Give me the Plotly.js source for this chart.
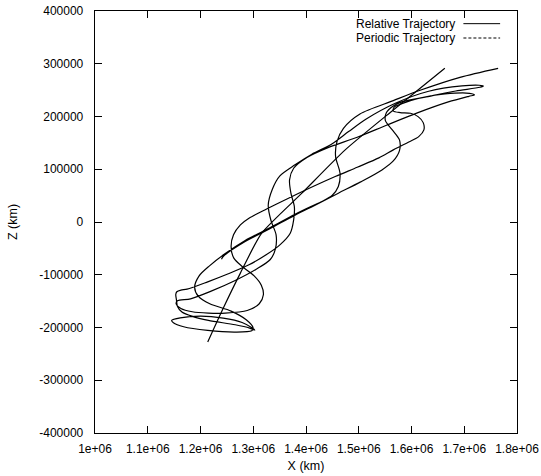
<!DOCTYPE html>
<html>
<head>
<meta charset="utf-8">
<script src="https://cdn.plot.ly/plotly-3.0.1.min.js"></script>
<style>
  html, body { margin: 0; padding: 0; background: #ffffff; }
  #chart { width: 541px; height: 476px; }
</style>
</head>
<body>
<div id="chart"></div>
<script>
// Relative trajectory in the X-Z plane (km), in time order
const relX = [
  1764200, 1691900, 1616300, 1565500, 1502300, 1471000, 1458700, 1456100, 1464500, 1461300,
  1449500, 1430000, 1409200, 1379200, 1332300, 1284700, 1246300, 1217000, 1197400, 1188900,
  1196100, 1217600, 1258000, 1286700, 1299700, 1297100, 1265800, 1213700, 1168100, 1148600,
  1145300, 1161600, 1200700, 1243000, 1278900, 1298400, 1302900, 1293200, 1265800, 1215000,
  1184400, 1164800, 1156400, 1154400, 1153100, 1155100, 1162900,
  1174600, 1213700, 1252800, 1291900, 1324500, 1350500, 1370100, 1376600, 1377900, 1371400,
  1368800, 1376600, 1402600, 1441700, 1497100, 1552500, 1611100, 1669800, 1708800, 1719300,
  1710100, 1663200, 1611100, 1581800, 1566800, 1565500, 1578500, 1598100, 1612500, 1622200,
  1623500, 1613700, 1594800, 1565500, 1538200, 1497100, 1455400, 1409200, 1366800, 1324500,
  1291900, 1275600, 1262600, 1258000, 1263200, 1278900, 1301700, 1315300, 1319200, 1311400,
  1288600, 1246900, 1215000, 1184400, 1162900, 1153800, 1156400,
  1181100, 1220200, 1265800, 1304900, 1332300, 1342000, 1343300, 1333600, 1328400, 1336200,
  1350500, 1379200, 1411100, 1448200, 1480800, 1513400, 1569400, 1632600, 1695800, 1728400,
  1736200,
  1729700, 1684100, 1633900, 1583100, 1565500, 1552500, 1550500, 1563600, 1577200, 1577200,
  1565500, 1544000, 1503600, 1461300, 1420900, 1379200, 1332300, 1284700, 1243000, 1239800
];
const relZ = [
  291400, 274300, 249700, 230100, 204900, 177700, 152500, 124000, 92500, 67200,
  50200, 38800, 29300, 14800, -10500, -35100, -60300, -83100, -102000, -123500,
  -141100, -155000, -168900, -185300, -200500, -206200, -208700, -205500, -198600, -191000,
  -186600, -181600, -178400, -182200, -190400, -201100, -204900, -201100, -194800, -186600,
  -179000, -170800, -160100, -147500, -137400, -132300, -129100,
  -127300, -113400, -98200, -81200, -62200, -43300, -21200, 4100, 29300, 54600,
  79800, 101900, 122800, 141100, 160700, 183400, 206800, 227600, 238300, 240900,
  244000, 242700, 233900, 224400, 217500, 210500, 207400, 206100, 199800, 188400,
  174600, 161900, 151800, 136700, 121500, 103800, 86200, 65300, 45100, 24300,
  7200, -5400, -24300, -46400, -68500, -84300, -102000, -119700, -138000, -155000,
  -167700, -172700, -172700, -170200, -163900, -155000, -149400,
  -145600, -131000, -110800, -90000, -71100, -50900, -24300, 2800, 31900, 62200,
  87400, 108300, 128500, 147400, 171400, 194800, 225100, 247800, 257900, 259200,
  257900,
  255400, 248400, 238300, 228200, 220000, 207400, 192200, 174600, 155600, 135400,
  115800, 98800, 76100, 54600, 33800, 12900, -12300, -37000, -65400, -70400
];

// Periodic trajectory (km)
const perX = [1213700, 1241700, 1275600, 1316000, 1392200, 1474300, 1565500, 1663200];
const perZ = [-227600, -166400, -96900, -21200, 54600, 136700, 212400, 291400];

const seriesNames = ['Relative Trajectory', 'Periodic Trajectory'];

const xTickVals = [1000000, 1100000, 1200000, 1300000, 1400000, 1500000, 1600000, 1700000, 1800000];
const xTickText = ['1e+06', '1.1e+06', '1.2e+06', '1.3e+06', '1.4e+06', '1.5e+06', '1.6e+06', '1.7e+06', '1.8e+06'];
const zTickVals = [-400000, -300000, -200000, -100000, 0, 100000, 200000, 300000, 400000];
const zTickText = ['-400000', '-300000', '-200000', '-100000', '0', '100000', '200000', '300000', '400000'];

const FONT = 'Liberation Sans, Arial, Helvetica, sans-serif';

const traces = [
  {
    x: perX, y: perZ, mode: 'lines', name: seriesNames[1], showlegend: false,
    line: { color: '#000000', width: 1.2, shape: 'spline', smoothing: 0.6 },
    hoverinfo: 'skip'
  },
  {
    x: relX, y: relZ, mode: 'lines', name: seriesNames[0], showlegend: false,
    line: { color: '#000000', width: 1.2, shape: 'spline', smoothing: 0.8 },
    hoverinfo: 'skip'
  }
];

// key in the upper right corner: label on the left, line sample on the right
const keyRows = [
  { name: seriesNames[0], dash: 'solid', y: 0.970 },
  { name: seriesNames[1], dash: '3px,2px', y: 0.936 }
];
const annotations = keyRows.map(r => ({
  xref: 'paper', yref: 'paper', x: 0.856, y: r.y, xanchor: 'right', yanchor: 'middle',
  text: r.name, showarrow: false, borderpad: 0,
  font: { family: FONT, size: 12, color: '#000' }
}));
const shapes = keyRows.map(r => ({
  type: 'line', xref: 'paper', yref: 'paper', x0: 0.873, x1: 0.960, y0: r.y, y1: r.y,
  line: { color: '#000', width: 1, dash: r.dash }
}));

const axisCommon = {
  showgrid: false, zeroline: false,
  showline: true, mirror: 'ticks', linecolor: '#000', linewidth: 1.3,
  ticks: 'inside', ticklen: 7, tickwidth: 1, tickcolor: '#000',
  tickfont: { family: FONT, size: 12, color: '#000' }
};

const layout = {
  width: 541, height: 476,
  margin: { l: 95, r: 24, t: 11, b: 43 },
  paper_bgcolor: '#ffffff', plot_bgcolor: '#ffffff',
  showlegend: false,
  font: { family: FONT, color: '#000' },
  xaxis: Object.assign({}, axisCommon, {
    range: [1000000, 1800000], tickmode: 'array', tickvals: xTickVals, ticktext: xTickText,
    ticklabelstandoff: 4,
    title: { text: 'X (km)', font: { family: FONT, size: 12.5, color: '#000' }, standoff: 6 }
  }),
  yaxis: Object.assign({}, axisCommon, {
    range: [-400000, 400000], tickmode: 'array', tickvals: zTickVals, ticktext: zTickText,
    ticklabelstandoff: 8,
    title: { text: 'Z (km)', font: { family: FONT, size: 12.5, color: '#000' }, standoff: 19 }
  }),
  annotations: annotations,
  shapes: shapes
};

Plotly.newPlot('chart', traces, layout, { displayModeBar: false, staticPlot: true });
</script>
</body>
</html>
